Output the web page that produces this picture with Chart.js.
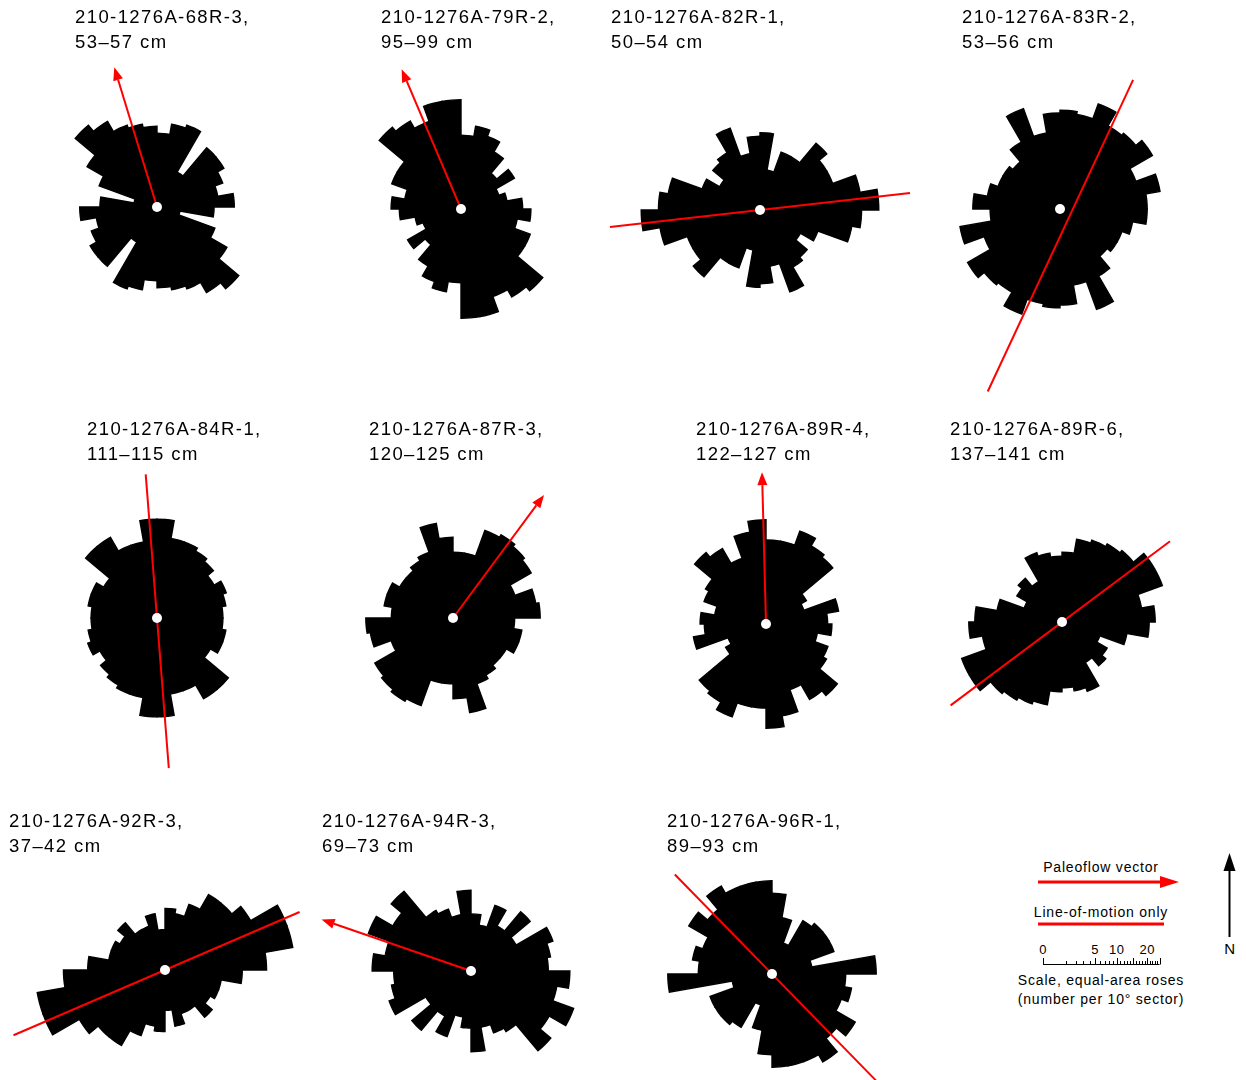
<!DOCTYPE html>
<html>
<head>
<meta charset="utf-8">
<script src="https://cdn.jsdelivr.net/npm/chart.js@4.4.1/dist/chart.umd.min.js"></script>
<style>
  html, body { margin: 0; padding: 0; background: #fff; }
  body { width: 1246px; height: 1080px; position: relative; overflow: hidden;
         font-family: "Liberation Sans", Arial, Helvetica, sans-serif; color: #000; }
  .rose { position: absolute; }
  .title { position: absolute; font-size: 18.5px; letter-spacing: 1.4px; line-height: 24px; white-space: nowrap; }
  .key { position: absolute; font-size: 14px; letter-spacing: 0.8px; line-height: 18px; white-space: nowrap; transform: translateX(-50%); }
  .tick { position: absolute; font-size: 13px; letter-spacing: 0.4px; line-height: 16px; transform: translateX(-50%); }
  #keyCanvas { position: absolute; left: 990px; top: 840px; }
</style>
</head>
<body>
<script>
// ---- sectors (start azimuth of each 10° sector, clockwise from north) ----
const sectorStart = [0, 10, 20, 30, 40, 50, 60, 70, 80, 90, 100, 110, 120, 130, 140, 150, 160, 170,
                     180, 190, 200, 210, 220, 230, 240, 250, 260, 270, 280, 290, 300, 310, 320, 330, 340, 350];

// ---- samples ----
const sampleNames = ['210-1276A-68R-3,', '210-1276A-79R-2,', '210-1276A-82R-1,', '210-1276A-83R-2,',
                     '210-1276A-84R-1,', '210-1276A-87R-3,', '210-1276A-89R-4,', '210-1276A-89R-6,',
                     '210-1276A-92R-3,', '210-1276A-94R-3,', '210-1276A-96R-1,'];
const depthRanges = ['53–57 cm', '95–99 cm', '50–54 cm', '53–56 cm', '111–115 cm', '120–125 cm',
                     '122–127 cm', '137–141 cm', '37–42 cm', '69–73 cm', '89–93 cm'];

// ---- grain counts per 10° sector ----
const counts68R3 = [10, 13, 14, 3, 11, 11, 9, 7, 11, 6, 1, 7, 12, 21, 18, 14, 13, 12,
                    10, 13, 14, 3, 11, 11, 9, 7, 11, 6, 1, 7, 12, 21, 18, 14, 13, 12];
const counts79R2 = [10, 13, 11, 8, 4, 7, 3, 4, 7, 9, 6, 10, 10, 21, 19, 16, 22, 22,
                    10, 13, 11, 8, 4, 7, 3, 4, 7, 9, 6, 10, 10, 21, 19, 16, 22, 22];
const counts82R1 = [11, 3, 7, 7, 14, 11, 11, 19, 26, 19, 16, 7, 4, 7, 8, 14, 6, 10,
                    11, 3, 7, 7, 14, 11, 11, 19, 26, 19, 16, 7, 4, 7, 8, 14, 6, 10];
const counts83R2 = [18, 17, 23, 17, 18, 21, 12, 19, 14, 14, 10, 8, 8, 7, 11, 21, 11, 17,
                    18, 17, 23, 17, 18, 21, 12, 19, 9, 14, 10, 8, 8, 7, 11, 21, 11, 17];
const counts84R1 = [18, 12, 12, 11, 10, 8, 10, 9, 8, 8, 9, 9, 7, 16, 16, 11, 11, 18,
                    18, 12, 12, 11, 10, 8, 10, 9, 8, 8, 9, 9, 7, 16, 16, 11, 11, 18];
const counts87R3 = [8, 8, 16, 17, 16, 15, 8, 13, 14, 7, 9, 9, 7, 7, 8, 9, 17, 12,
                    8, 8, 16, 17, 16, 15, 8, 13, 14, 7, 9, 9, 7, 7, 8, 9, 17, 12];
const counts89R4 = [13, 13, 18, 15, 14, 4, 3, 10, 7, 8, 5, 8, 9, 16, 14, 9, 16, 20,
                    13, 13, 18, 15, 14, 4, 3, 10, 7, 8, 5, 8, 9, 16, 14, 9, 16, 20];
const counts89R6 = [9, 13, 14, 15, 16, 21, 21, 12, 16, 14, 8, 3, 5, 6, 4, 10, 9, 8,
                    9, 13, 14, 15, 16, 21, 21, 12, 16, 14, 8, 3, 5, 6, 4, 10, 9, 8];
const counts92R3 = [7, 6, 9, 14, 14, 18, 31, 31, 19, 11, 6, 6, 5, 7, 4, 4, 6, 3,
                    7, 6, 9, 14, 14, 18, 31, 31, 19, 11, 6, 6, 5, 7, 4, 4, 6, 3];
const counts94R3 = [6, 4, 9, 5, 11, 5, 14, 12, 11, 18, 14, 22, 15, 20, 9, 8, 6, 12,
                    6, 4, 9, 5, 11, 5, 14, 12, 11, 18, 14, 22, 15, 20, 9, 8, 6, 12];
const counts96R1 = [12, 6, 2, 7, 8, 8, 8, 3, 20, 10, 12, 10, 17, 13, 19, 16, 16, 16,
                    12, 6, 2, 7, 8, 8, 8, 3, 20, 10, 12, 10, 17, 13, 19, 16, 16, 16];

// ---- flow direction per sample (lengths in rose-scale units, sqrt of count) ----
const flowAzimuth  = [343, 337, 83.5, 25, 355.5, 36.5, 358.5, 53.2, 66.7, 289, 315.7];
const flowAhead    = [6.27, 6.52, 6.48, 6.35, 6.18, 6.57, 6.52, 5.79, 6.29, 6.78, 5.97];
const flowBehind   = [0, 0, 6.48, 8.41, 6.46, 0, 0, 5.97, 7.08, 0, 6.65];
const flowOffset   = [0, 0, 0, 0.5, 0, 0, 0, 0, 0, 0, 0];
const flowIsVector = [true, true, false, false, false, true, true, false, false, true, false];

// ---- scale bar ticks ----
const scaleTickLabels = [0, 5, 10, 20];
const scaleBarMax = 25;

// ---- layout ----
const allCounts = [counts68R3, counts79R2, counts82R1, counts83R2, counts84R1, counts87R3,
                   counts89R4, counts89R6, counts92R3, counts94R3, counts96R1];
const roseCenters = [[157, 207], [461, 209], [760, 210], [1060, 209],
                     [157, 618], [453, 618], [766, 624], [1062, 622],
                     [165, 970], [471, 971], [772, 974]];
const titlePos = [[75, 5], [381, 5], [611, 5], [962, 5],
                  [87, 417], [369, 417], [696, 417], [950, 417],
                  [9, 809], [322, 809], [667, 809]];
const PX_PER_UNIT = 23.3;          // rose radius pixels per sqrt(count)
const SIZE = 420;                  // canvas side for each rose
const R_MAX = SIZE / 2 / PX_PER_UNIT;
const RED = '#ff0000';

const sectorLabels = sectorStart.map(a => a + '–' + (a + 10) + '°');

// red flow line / arrow and the white centre dot
const roseOverlay = {
  id: 'roseOverlay',
  afterDatasetsDraw(chart, args, o) {
    const r = chart.scales.r;
    const ctx = chart.ctx;
    const cx = r.xCenter, cy = r.yCenter;
    const a = o.azimuth * Math.PI / 180;
    const ux = Math.sin(a), uy = -Math.cos(a);
    const off = r.getDistanceFromCenterForValue(o.offset);
    const px = cx + Math.cos(a) * off, py = cy + Math.sin(a) * off;
    const ahead = r.getDistanceFromCenterForValue(o.ahead);
    const behind = r.getDistanceFromCenterForValue(o.behind);
    const head = o.vector ? 13 : 0;

    ctx.save();
    ctx.strokeStyle = RED;
    ctx.fillStyle = RED;
    ctx.lineWidth = 2;
    ctx.beginPath();
    ctx.moveTo(px - ux * behind, py - uy * behind);
    ctx.lineTo(px + ux * (ahead - head), py + uy * (ahead - head));
    ctx.stroke();
    if (o.vector) {
      const tx = px + ux * ahead, ty = py + uy * ahead;
      const bx = tx - ux * head, by = ty - uy * head;
      ctx.beginPath();
      ctx.moveTo(tx, ty);
      ctx.lineTo(bx - uy * 5, by + ux * 5);
      ctx.lineTo(bx + uy * 5, by - ux * 5);
      ctx.closePath();
      ctx.fill();
    }
    ctx.fillStyle = '#fff';
    ctx.beginPath();
    ctx.arc(cx, cy, 5, 0, Math.PI * 2);
    ctx.fill();
    ctx.restore();
  }
};

allCounts.forEach((counts, i) => {
  const cv = document.createElement('canvas');
  cv.width = SIZE;
  cv.height = SIZE;
  cv.className = 'rose';
  cv.style.left = (roseCenters[i][0] - SIZE / 2) + 'px';
  cv.style.top = (roseCenters[i][1] - SIZE / 2) + 'px';
  document.body.appendChild(cv);

  new Chart(cv, {
    type: 'polarArea',
    data: {
      labels: sectorLabels,
      datasets: [{
        label: sampleNames[i],
        // equal-area rose: radius goes with the square root of the count
        data: counts.map(Math.sqrt),
        backgroundColor: '#000',
        borderColor: '#000',
        borderWidth: 1.4,
        borderJoinStyle: 'miter'
      }]
    },
    options: {
      responsive: false,
      devicePixelRatio: 1,
      animation: false,
      events: [],
      layout: { padding: 0 },
      plugins: {
        legend: { display: false },
        tooltip: { enabled: false },
        roseOverlay: {
          azimuth: flowAzimuth[i],
          ahead: flowAhead[i],
          behind: flowBehind[i],
          offset: flowOffset[i],
          vector: flowIsVector[i]
        }
      },
      scales: {
        r: {
          min: 0,
          max: R_MAX,
          startAngle: 0,
          grid: { display: false },
          angleLines: { display: false },
          ticks: { display: false },
          pointLabels: { display: false }
        }
      }
    },
    plugins: [roseOverlay]
  });
});

// titles
function addDiv(cls, text, left, top) {
  const d = document.createElement('div');
  d.className = cls;
  d.textContent = text;
  d.style.left = left + 'px';
  d.style.top = top + 'px';
  document.body.appendChild(d);
  return d;
}
sampleNames.forEach((name, i) => {
  addDiv('title', name, titlePos[i][0], titlePos[i][1]);
  addDiv('title', depthRanges[i], titlePos[i][0], titlePos[i][1] + 25);
});

// key, scale bar and north arrow
const KX = 990, KY = 840;
const barX = 1043 - KX, barY = 964 - KY;
addDiv('key', 'Paleoflow vector', 1101, 858);
addDiv('key', 'Line-of-motion only', 1101, 903);
addDiv('key', 'Scale, equal-area roses', 1101, 971);
addDiv('key', '(number per 10° sector)', 1101, 990);
addDiv('key', 'N', 1230, 940).style.fontSize = '15px';
scaleTickLabels.forEach(n => {
  addDiv('tick', String(n), KX + barX + PX_PER_UNIT * Math.sqrt(n), 942);
});

const kc = document.createElement('canvas');
kc.id = 'keyCanvas';
kc.width = 256;
kc.height = 180;
document.body.appendChild(kc);
const k = kc.getContext('2d');

// paleoflow arrow
k.strokeStyle = RED;
k.fillStyle = RED;
k.lineWidth = 3;
k.beginPath();
k.moveTo(48, 42);
k.lineTo(172, 42);
k.stroke();
k.beginPath();
k.moveTo(189, 42);
k.lineTo(170, 36);
k.lineTo(170, 48);
k.closePath();
k.fill();
// line-of-motion
k.beginPath();
k.moveTo(48, 84);
k.lineTo(174, 84);
k.stroke();

// scale bar: one tick per count, long ticks every five
k.strokeStyle = '#000';
k.lineWidth = 1;
k.beginPath();
k.moveTo(barX, barY + 0.5);
k.lineTo(barX + PX_PER_UNIT * Math.sqrt(scaleBarMax), barY + 0.5);
for (let n = 0; n <= scaleBarMax; n++) {
  const x = Math.round(barX + PX_PER_UNIT * Math.sqrt(n)) + 0.5;
  const h = n % 5 === 0 ? 6 : 3;
  k.moveTo(x, barY + 0.5);
  k.lineTo(x, barY - h);
}
k.stroke();

// north arrow
k.lineWidth = 2;
k.beginPath();
k.moveTo(239.5, 97);
k.lineTo(239.5, 28);
k.stroke();
k.fillStyle = '#000';
k.beginPath();
k.moveTo(239.5, 13);
k.lineTo(233.5, 31);
k.lineTo(245.5, 31);
k.closePath();
k.fill();
</script>
</body>
</html>
